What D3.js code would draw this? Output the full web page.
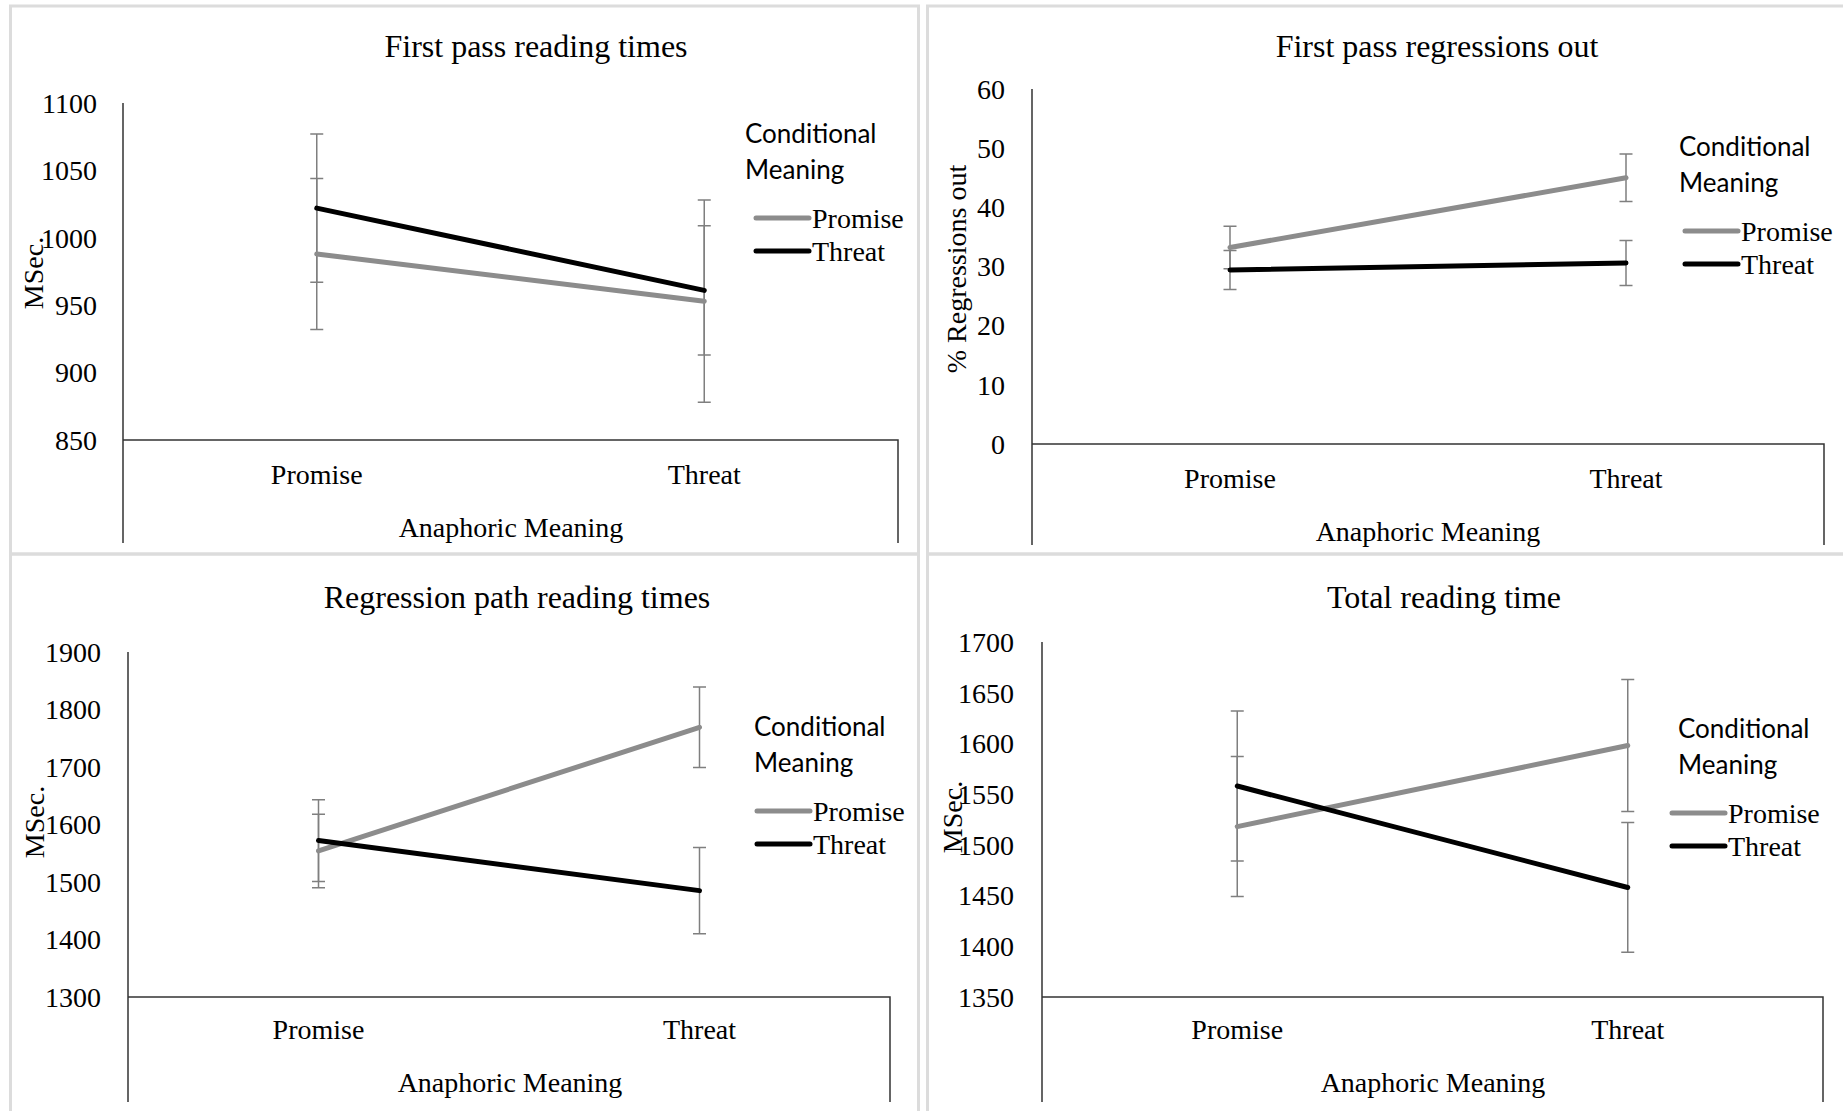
<!DOCTYPE html>
<html>
<head>
<meta charset="utf-8">
<script src="https://cdn.jsdelivr.net/npm/d3@7"></script>
<style>
  body { margin: 0; background: #fff; }
  text { font-family: "Liberation Serif", "Times New Roman", serif; fill: #000; }
  .sans { font-family: Lato, "Open Sans", sans-serif; }
</style>
</head>
<body>
<div id="chart"></div>
<script>
// ---- data ----
var categories = ["Promise", "Threat"];
var seriesNames = ["Promise", "Threat"];
var legendTitle = ["Conditional", "Meaning"];
var titles = ["First pass reading times", "First pass regressions out",
              "Regression path reading times", "Total reading time"];
var yLabels = ["MSec.", "% Regressions out", "MSec.", "MSec."];
var xLabel = "Anaphoric Meaning";

var firstPassTicks = [850, 900, 950, 1000, 1050, 1100];
var firstPassPromise = [988, 953];
var firstPassPromiseErr = [56, 75];
var firstPassThreat = [1022, 961];
var firstPassThreatErr = [55, 48];

var regOutTicks = [0, 10, 20, 30, 40, 50, 60];
var regOutPromise = [33.2, 45.0];
var regOutPromiseErr = [3.6, 4.0];
var regOutThreat = [29.4, 30.6];
var regOutThreatErr = [3.3, 3.8];

var regPathTicks = [1300, 1400, 1500, 1600, 1700, 1800, 1900];
var regPathPromise = [1554, 1769];
var regPathPromiseErr = [64, 70];
var regPathThreat = [1572, 1485];
var regPathThreatErr = [71, 75];

var totalTicks = [1350, 1400, 1450, 1500, 1550, 1600, 1650, 1700];
var totalPromise = [1518, 1598];
var totalPromiseErr = [69, 65];
var totalThreat = [1558, 1458];
var totalThreatErr = [74, 64];

// ---- layout (pixels) ----
var width = 1843, height = 1111;
var panels = [
  {ticks: firstPassTicks, promise: firstPassPromise, promiseErr: firstPassPromiseErr, threat: firstPassThreat, threatErr: firstPassThreatErr,
   frame: [10.5, 6, 918.5, 554], x0: 123, x1: 898, top: 103, bottom: 440, lineEnd: 543, tickRight: 97,
   titleX: 536, titleY: 46, catY: 474, xTitleX: 511, xTitleY: 527, yLabX: 33, yLabY: 273,
   legX: 745, legLineX: 756, legY: 134},
  {ticks: regOutTicks, promise: regOutPromise, promiseErr: regOutPromiseErr, threat: regOutThreat, threatErr: regOutThreatErr,
   frame: [927.5, 6, 1848, 554], x0: 1032, x1: 1824, top: 89, bottom: 444, lineEnd: 545, tickRight: 1005,
   titleX: 1437, titleY: 46, catY: 478, xTitleX: 1428, xTitleY: 531, yLabX: 956, yLabY: 269,
   legX: 1679, legLineX: 1685, legY: 147},
  {ticks: regPathTicks, promise: regPathPromise, promiseErr: regPathPromiseErr, threat: regPathThreat, threatErr: regPathThreatErr,
   frame: [10.5, 554, 918.5, 1116], x0: 128, x1: 890, top: 652, bottom: 997, lineEnd: 1102, tickRight: 101,
   titleX: 517, titleY: 597, catY: 1029, xTitleX: 510, xTitleY: 1082, yLabX: 34, yLabY: 822,
   legX: 754, legLineX: 757, legY: 727},
  {ticks: totalTicks, promise: totalPromise, promiseErr: totalPromiseErr, threat: totalThreat, threatErr: totalThreatErr,
   frame: [927.5, 554, 1848, 1116], x0: 1042, x1: 1823, top: 642, bottom: 997, lineEnd: 1102, tickRight: 1014,
   titleX: 1444, titleY: 597, catY: 1029, xTitleX: 1433, xTitleY: 1082, yLabX: 952, yLabY: 817,
   legX: 1678, legLineX: 1672, legY: 729}
];

var grey = "#8c8c8c";
var colors = [grey, "#000"];

var svg = d3.select("#chart").append("svg")
    .attr("width", width)
    .attr("height", height);

svg.append("rect").attr("width", width).attr("height", height).attr("fill", "#fff");

panels.forEach(function(p, i) {
    var g = svg.append("g");

    // panel frame
    g.append("rect")
        .attr("x", p.frame[0]).attr("y", p.frame[1])
        .attr("width", p.frame[2] - p.frame[0]).attr("height", p.frame[3] - p.frame[1])
        .attr("fill", "none").attr("stroke", "#dcdcdc").attr("stroke-width", 3);

    var x = d3.scaleBand().domain(categories).range([p.x0, p.x1]);
    var y = d3.scaleLinear().domain([p.ticks[0], p.ticks[p.ticks.length - 1]]).range([p.bottom, p.top]);
    var cx = function(c) { return x(c) + x.bandwidth() / 2; };

    // axis lines: left, bottom, right-down box
    g.append("path")
        .attr("d", "M" + p.x0 + "," + p.top + "V" + p.lineEnd +
                   "M" + p.x0 + "," + y(p.ticks[0]) + "H" + p.x1 + "V" + p.lineEnd)
        .attr("fill", "none").attr("stroke", "#333").attr("stroke-width", 1.5);

    // tick labels
    g.selectAll(".tick").data(p.ticks).enter().append("text")
        .attr("x", p.tickRight)
        .attr("y", function(d) { return y(d); })
        .attr("dy", "0.35em")
        .attr("text-anchor", "end")
        .attr("font-size", 28)
        .text(function(d) { return d; });

    // category labels
    g.selectAll(".cat").data(categories).enter().append("text")
        .attr("x", function(d) { return cx(d); })
        .attr("y", p.catY)
        .attr("dy", "0.35em")
        .attr("text-anchor", "middle")
        .attr("font-size", 28)
        .text(function(d) { return d; });

    // title, axis titles
    g.append("text").attr("x", p.titleX).attr("y", p.titleY).attr("dy", "0.35em")
        .attr("text-anchor", "middle").attr("font-size", 32).text(titles[i]);
    g.append("text").attr("x", p.xTitleX).attr("y", p.xTitleY).attr("dy", "0.35em")
        .attr("text-anchor", "middle").attr("font-size", 28).text(xLabel);
    g.append("text")
        .attr("transform", "translate(" + p.yLabX + "," + p.yLabY + ") rotate(-90)")
        .attr("dy", "0.35em")
        .attr("text-anchor", "middle").attr("font-size", 28).text(yLabels[i]);

    var series = [
        {name: seriesNames[0], values: p.promise, errs: p.promiseErr, color: colors[0]},
        {name: seriesNames[1], values: p.threat, errs: p.threatErr, color: colors[1]}
    ];

    // error bars
    series.forEach(function(s) {
        categories.forEach(function(c, j) {
            var lo = y(s.values[j] - s.errs[j]), hi = y(s.values[j] + s.errs[j]), xc = cx(c);
            g.append("path")
                .attr("d", "M" + xc + "," + lo + "V" + hi +
                           "M" + (xc - 6.5) + "," + lo + "H" + (xc + 6.5) +
                           "M" + (xc - 6.5) + "," + hi + "H" + (xc + 6.5))
                .attr("fill", "none").attr("stroke", "#7f7f7f").attr("stroke-width", 1.5);
        });
    });

    var line = d3.line()
        .x(function(d, j) { return cx(categories[j]); })
        .y(function(d) { return y(d); });

    series.forEach(function(s) {
        g.append("path")
            .attr("d", line(s.values))
            .attr("fill", "none")
            .attr("stroke", s.color)
            .attr("stroke-width", 5)
            .attr("stroke-linecap", "round");
    });

    // legend
    legendTitle.forEach(function(t, k) {
        g.append("text").attr("class", "sans")
            .attr("x", p.legX).attr("y", p.legY + k * 35.5).attr("dy", "0.35em")
            .attr("font-size", 26).text(t);
    });
    series.forEach(function(s, k) {
        var ly = p.legY + 84 + k * 33;
        g.append("line")
            .attr("x1", p.legLineX).attr("x2", p.legLineX + 53)
            .attr("y1", ly).attr("y2", ly)
            .attr("stroke", s.color).attr("stroke-width", 5).attr("stroke-linecap", "round");
        g.append("text")
            .attr("x", p.legLineX + 56).attr("y", ly).attr("dy", "0.35em")
            .attr("font-size", 28).text(s.name);
    });
});
</script>
</body>
</html>
